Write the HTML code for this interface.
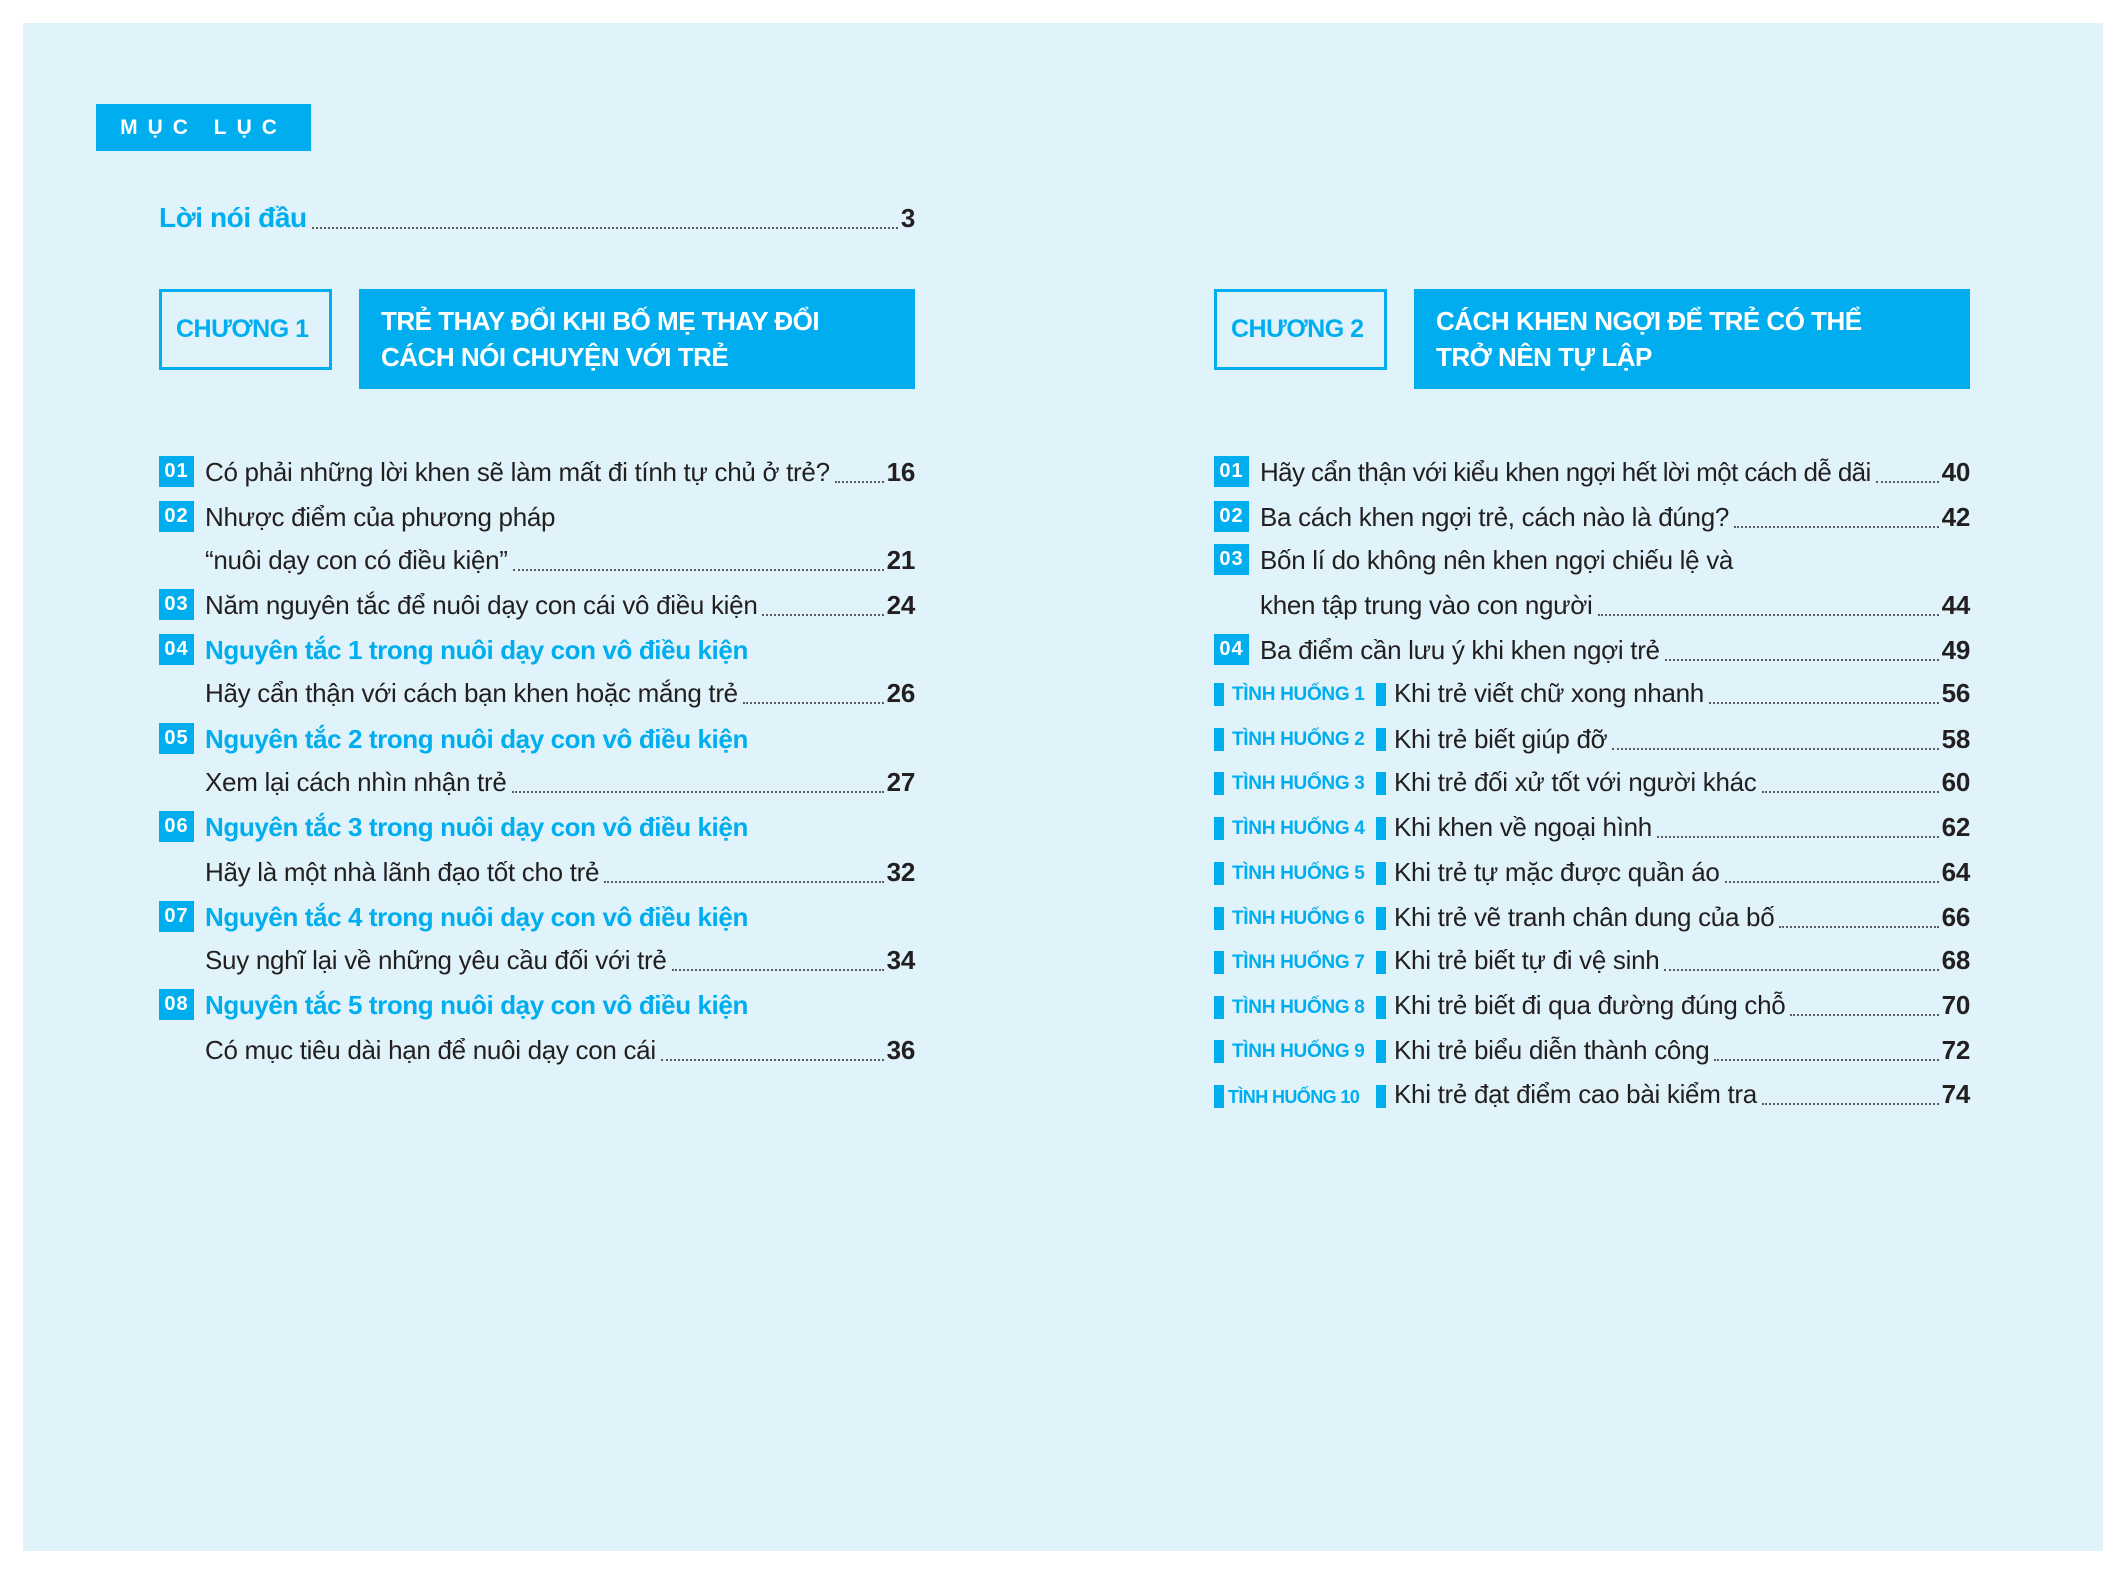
<!DOCTYPE html>
<html><head><meta charset="utf-8"><style>
*{margin:0;padding:0;box-sizing:border-box}
body{width:2126px;height:1575px;background:#fff;position:relative;overflow:hidden;font-family:"Liberation Sans Narrow","Liberation Sans",sans-serif;color:#231f20}
.bg{position:absolute;left:23px;top:23px;width:2080px;height:1528px;background:#e0f3fb}
.abs{position:absolute}
.row{position:absolute;height:40px;display:flex;align-items:center;font-size:26px;white-space:nowrap;letter-spacing:-0.3px}
.row .t{padding-right:2px}
.row .d{flex:1;height:22px;border-bottom:2px dotted #231f20;margin:0 3px;opacity:.7}
.row .n{font-weight:bold;font-size:26px}
.badge{position:absolute;width:35px;height:31px;background:#00aeef;color:#fff;font-weight:bold;font-size:20px;display:flex;align-items:center;justify-content:center;letter-spacing:1px}
.blue{color:#00aeef;font-weight:bold;font-size:26px;letter-spacing:-0.4px}
.th{position:absolute;height:30px;font-size:19px;font-weight:bold;color:#00aeef;display:flex;align-items:center;letter-spacing:-0.3px}
.bar{position:absolute;width:10px;height:23px;background:#00aeef}
</style></head><body>
<div class="bg"></div>
<div class="abs" style="left:96px;top:104px;width:215px;height:47px;background:#00aeef;color:#fff;font-size:21px;font-weight:bold;letter-spacing:10px;display:flex;align-items:center;justify-content:center">MỤC LỤC</div>

<div class="row" style="left:159px;top:198px;width:756px"><span class="t blue" style="font-size:28px">Lời nói đầu</span><span class="d"></span><span class="n">3</span></div>

<div class="abs" style="left:159px;top:289px;width:173px;height:81px;border:3px solid #00aeef;color:#00aeef;font-weight:bold;font-size:25px;letter-spacing:-0.5px;display:flex;align-items:center;padding-left:14px">CHƯƠNG 1</div>
<div class="abs" style="left:359px;top:289px;width:556px;height:100px;background:#00aeef;color:#fff;font-weight:bold;font-size:26px;letter-spacing:-0.5px;line-height:36px;padding:14px 0 0 22px">TRẺ THAY ĐỔI KHI BỐ MẸ THAY ĐỔI<br>CÁCH NÓI CHUYỆN VỚI TRẺ</div>

<div class="abs" style="left:1214px;top:289px;width:173px;height:81px;border:3px solid #00aeef;color:#00aeef;font-weight:bold;font-size:25px;letter-spacing:-0.5px;display:flex;align-items:center;padding-left:14px">CHƯƠNG 2</div>
<div class="abs" style="left:1414px;top:289px;width:556px;height:100px;background:#00aeef;color:#fff;font-weight:bold;font-size:26px;letter-spacing:-0.5px;line-height:36px;padding:14px 0 0 22px">CÁCH KHEN NGỢI ĐỂ TRẺ CÓ THỂ<br>TRỞ NÊN TỰ LẬP</div>

<div class="badge" style="left:159px;top:456px">01</div>
<div class="row" style="left:205px;top:452px;width:710px"><span class="t">Có phải những lời khen sẽ làm mất đi tính tự chủ ở trẻ?</span><span class="d"></span><span class="n">16</span></div>
<div class="badge" style="left:159px;top:501px">02</div>
<div class="row" style="left:205px;top:497px;width:710px"><span class="t">Nhược điểm của phương pháp</span></div>
<div class="row" style="left:205px;top:540px;width:710px"><span class="t">“nuôi dạy con có điều kiện”</span><span class="d"></span><span class="n">21</span></div>
<div class="badge" style="left:159px;top:589px">03</div>
<div class="row" style="left:205px;top:585px;width:710px"><span class="t">Năm nguyên tắc để nuôi dạy con cái vô điều kiện</span><span class="d"></span><span class="n">24</span></div>
<div class="badge" style="left:159px;top:634px">04</div>
<div class="row" style="left:205px;top:630px;width:710px"><span class="t blue">Nguyên tắc 1 trong nuôi dạy con vô điều kiện</span></div>
<div class="row" style="left:205px;top:673px;width:710px"><span class="t">Hãy cẩn thận với cách bạn khen hoặc mắng trẻ</span><span class="d"></span><span class="n">26</span></div>
<div class="badge" style="left:159px;top:723px">05</div>
<div class="row" style="left:205px;top:719px;width:710px"><span class="t blue">Nguyên tắc 2 trong nuôi dạy con vô điều kiện</span></div>
<div class="row" style="left:205px;top:762px;width:710px"><span class="t">Xem lại cách nhìn nhận trẻ</span><span class="d"></span><span class="n">27</span></div>
<div class="badge" style="left:159px;top:811px">06</div>
<div class="row" style="left:205px;top:807px;width:710px"><span class="t blue">Nguyên tắc 3 trong nuôi dạy con vô điều kiện</span></div>
<div class="row" style="left:205px;top:852px;width:710px"><span class="t">Hãy là một nhà lãnh đạo tốt cho trẻ</span><span class="d"></span><span class="n">32</span></div>
<div class="badge" style="left:159px;top:901px">07</div>
<div class="row" style="left:205px;top:897px;width:710px"><span class="t blue">Nguyên tắc 4 trong nuôi dạy con vô điều kiện</span></div>
<div class="row" style="left:205px;top:940px;width:710px"><span class="t">Suy nghĩ lại về những yêu cầu đối với trẻ</span><span class="d"></span><span class="n">34</span></div>
<div class="badge" style="left:159px;top:989px">08</div>
<div class="row" style="left:205px;top:985px;width:710px"><span class="t blue">Nguyên tắc 5 trong nuôi dạy con vô điều kiện</span></div>
<div class="row" style="left:205px;top:1030px;width:710px"><span class="t">Có mục tiêu dài hạn để nuôi dạy con cái</span><span class="d"></span><span class="n">36</span></div>

<div class="badge" style="left:1214px;top:456px">01</div>
<div class="row" style="left:1260px;top:452px;width:710px"><span class="t" style="letter-spacing:-0.6px">Hãy cẩn thận với kiểu khen ngợi hết lời một cách dễ dãi</span><span class="d"></span><span class="n">40</span></div>
<div class="badge" style="left:1214px;top:501px">02</div>
<div class="row" style="left:1260px;top:497px;width:710px"><span class="t">Ba cách khen ngợi trẻ, cách nào là đúng?</span><span class="d"></span><span class="n">42</span></div>
<div class="badge" style="left:1214px;top:544px">03</div>
<div class="row" style="left:1260px;top:540px;width:710px"><span class="t">Bốn lí do không nên khen ngợi chiếu lệ và</span></div>
<div class="row" style="left:1260px;top:585px;width:710px"><span class="t">khen tập trung vào con người</span><span class="d"></span><span class="n">44</span></div>
<div class="badge" style="left:1214px;top:634px">04</div>
<div class="row" style="left:1260px;top:630px;width:710px"><span class="t">Ba điểm cần lưu ý khi khen ngợi trẻ</span><span class="d"></span><span class="n">49</span></div>

<div class="bar" style="left:1214px;top:683px"></div><div class="th" style="left:1232px;top:680px">TÌNH HUỐNG 1</div><div class="bar" style="left:1376px;top:683px"></div>
<div class="row" style="left:1394px;top:673px;width:576px"><span class="t">Khi trẻ viết chữ xong nhanh</span><span class="d"></span><span class="n">56</span></div>
<div class="bar" style="left:1214px;top:728px"></div><div class="th" style="left:1232px;top:725px">TÌNH HUỐNG 2</div><div class="bar" style="left:1376px;top:728px"></div>
<div class="row" style="left:1394px;top:719px;width:576px"><span class="t">Khi trẻ biết giúp đỡ</span><span class="d"></span><span class="n">58</span></div>
<div class="bar" style="left:1214px;top:772px"></div><div class="th" style="left:1232px;top:769px">TÌNH HUỐNG 3</div><div class="bar" style="left:1376px;top:772px"></div>
<div class="row" style="left:1394px;top:762px;width:576px"><span class="t">Khi trẻ đối xử tốt với người khác</span><span class="d"></span><span class="n">60</span></div>
<div class="bar" style="left:1214px;top:817px"></div><div class="th" style="left:1232px;top:814px">TÌNH HUỐNG 4</div><div class="bar" style="left:1376px;top:817px"></div>
<div class="row" style="left:1394px;top:807px;width:576px"><span class="t">Khi khen về ngoại hình</span><span class="d"></span><span class="n">62</span></div>
<div class="bar" style="left:1214px;top:862px"></div><div class="th" style="left:1232px;top:859px">TÌNH HUỐNG 5</div><div class="bar" style="left:1376px;top:862px"></div>
<div class="row" style="left:1394px;top:852px;width:576px"><span class="t">Khi trẻ tự mặc được quần áo</span><span class="d"></span><span class="n">64</span></div>
<div class="bar" style="left:1214px;top:907px"></div><div class="th" style="left:1232px;top:904px">TÌNH HUỐNG 6</div><div class="bar" style="left:1376px;top:907px"></div>
<div class="row" style="left:1394px;top:897px;width:576px"><span class="t">Khi trẻ vẽ tranh chân dung của bố</span><span class="d"></span><span class="n">66</span></div>
<div class="bar" style="left:1214px;top:951px"></div><div class="th" style="left:1232px;top:948px">TÌNH HUỐNG 7</div><div class="bar" style="left:1376px;top:951px"></div>
<div class="row" style="left:1394px;top:940px;width:576px"><span class="t">Khi trẻ biết tự đi vệ sinh</span><span class="d"></span><span class="n">68</span></div>
<div class="bar" style="left:1214px;top:996px"></div><div class="th" style="left:1232px;top:993px">TÌNH HUỐNG 8</div><div class="bar" style="left:1376px;top:996px"></div>
<div class="row" style="left:1394px;top:985px;width:576px"><span class="t">Khi trẻ biết đi qua đường đúng chỗ</span><span class="d"></span><span class="n">70</span></div>
<div class="bar" style="left:1214px;top:1040px"></div><div class="th" style="left:1232px;top:1037px">TÌNH HUỐNG 9</div><div class="bar" style="left:1376px;top:1040px"></div>
<div class="row" style="left:1394px;top:1030px;width:576px"><span class="t">Khi trẻ biểu diễn thành công</span><span class="d"></span><span class="n">72</span></div>
<div class="bar" style="left:1214px;top:1085px"></div><div class="th" style="left:1228px;top:1082px;font-size:18px;letter-spacing:-0.6px">TÌNH HUỐNG 10</div><div class="bar" style="left:1376px;top:1085px"></div>
<div class="row" style="left:1394px;top:1074px;width:576px"><span class="t">Khi trẻ đạt điểm cao bài kiểm tra</span><span class="d"></span><span class="n">74</span></div>
</body></html>
